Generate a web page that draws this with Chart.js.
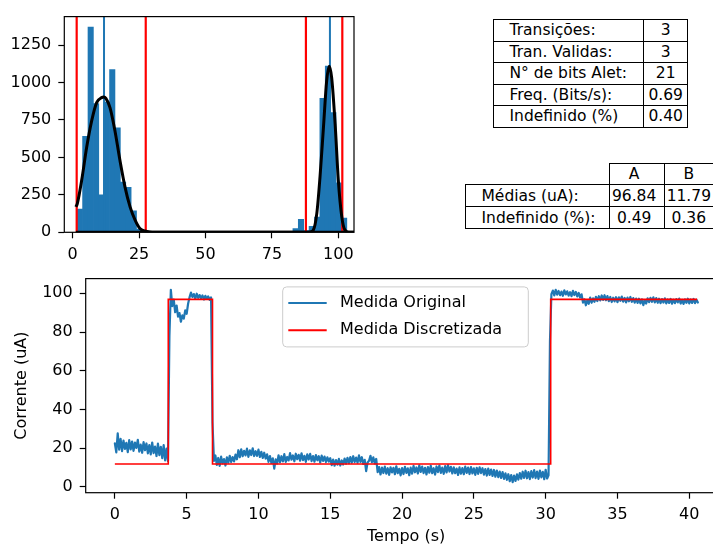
<!DOCTYPE html>
<html lang="pt-BR">
<head>
<meta charset="utf-8">
<title>Análise de bits aleatórios</title>
<script src="https://cdn.jsdelivr.net/npm/chart.js@4.4.1/dist/chart.umd.min.js"></script>
<style>
  html, body { margin: 0; padding: 0; background: #fff; overflow: hidden; }
  #painel { position: relative; width: 713px; height: 548px; overflow: hidden; font-family: "DejaVu Sans", sans-serif; }
  canvas { position: absolute; left: 0; }
  #histograma { top: 0; }
  #serie { top: 262px; }
  table { position: absolute; border-collapse: collapse; font-size: 15.5px; color: #000; table-layout: fixed; }
  td { border: 1px solid #000; padding: 0; box-sizing: border-box; white-space: nowrap; overflow: visible; }
  td.rotulo { text-align: left; padding-left: 15.5px; }
  td.valor { text-align: center; }
  td.vazio { border: none; }
  #tabResumo { left: 493px; top: 19px; width: 194.4px; }
  #tabResumo td { height: 21.5px; }
  #tabNiveis { left: 465px; top: 162.5px; width: 253.7px; }
  #tabNiveis td { height: 21.9px; }
  #tabNiveis td.valor { padding-right: 6px; }
</style>
</head>
<body>
<div id="painel">
  <canvas id="histograma" width="370" height="262"></canvas>
  <canvas id="serie" width="740" height="286"></canvas>
  <table id="tabResumo"></table>
  <table id="tabNiveis"></table>
</div>

<script>
// histograma das amostras (50 bins)
const histInicio = 1.7;
const histLargura = 2.03;
const histContagens = [
  155, 640, 1370, 860, 250, 870, 1086, 698, 335, 300,
  143, 22, 6, 0, 0, 0, 0, 0, 0, 0,
  0, 0, 0, 0, 0, 0, 0, 0, 0, 0,
  0, 0, 0, 0, 0, 0, 0, 0, 0, 0,
  25, 86, 12, 40, 101, 894, 1109, 800, 330, 95,
];
const histXTicks = [0, 25, 50, 75, 100];
const histYTicks = [0, 250, 500, 750, 1000, 1250];

// limites de decisão de cada nível
const limites = [1.5, 27.5, 87.8, 101.5];

// gaussianas ajustadas (nível B e nível A)
const ajusteB = [
  [1.2, 170], [1.74, 192], [3.38, 347], [5.26, 567], [7.14, 744], [9.02, 866],
  [10.9, 899], [11.7, 903], [12.5, 894], [14.04, 832], [15.9, 678], [17.8, 479],
  [19.7, 302], [21.6, 170], [23.5, 82], [25.3, 26], [27.2, 9], [29, 2], [31, 0], [106, 0],
];
const ajusteA = [
  [1.2, 0], [88, 0], [89.5, 3], [90.6, 15], [91.9, 126], [93.1, 369], [94.4, 700],
  [95.6, 1009], [96.6, 1109], [97.5, 1031], [98.8, 722], [100.0, 347], [101.3, 103],
  [102.5, 15], [104, 1], [106, 0],
];

// tabelas
const resumoRotulos = ["Transições:", "Tran. Validas:", "N° de bits Alet:", "Freq. (Bits/s):", "Indefinido (%)"];
const resumoValores = ["3", "3", "21", "0.69", "0.40"];
const niveis = ["A", "B"];
const mediasNivel = [96.84, 11.79];
const indefinidoNivel = [0.49, 0.36];

// medida de corrente (uA), uma amostra a cada 0.1 s
const passo = 0.1;
const correnteOriginal = [
  22.5, 17.8, 27.6, 19.2, 24.8, 18.4, 23.9, 19.6, 22.7, 17.9,
  24.1, 19.3, 23.4, 18.6, 22.9, 20.1, 24.3, 18.2, 21.8, 17.6,
  23.1, 18.9, 22.4, 17.3, 21.6, 16.8, 22.9, 17.4, 20.8, 15.9,
  22.3, 16.4, 20.7, 14.8, 21.5, 13.6, 19.8, 13.2, 78.0, 101.8,
  93.4, 96.8, 90.2, 93.7, 87.9, 89.8, 85.3, 88.6, 86.9, 91.2,
  89.4, 94.6, 97.9, 100.4, 98.1, 99.6, 97.2, 99.8, 97.6, 99.1,
  97.4, 98.9, 96.8, 98.7, 97.1, 98.4, 96.6, 97.9, 33.2, 13.4,
  16.2, 11.3, 14.9, 10.8, 15.6, 12.1, 14.3, 11.0, 15.2, 12.4,
  16.0, 12.8, 15.4, 13.1, 16.6, 14.2, 18.9, 15.3, 19.4, 15.8,
  18.6, 16.2, 19.7, 15.5, 18.8, 16.4, 19.9, 15.9, 18.4, 16.0,
  19.2, 15.4, 18.1, 14.9, 17.6, 14.6, 16.8, 12.9, 15.9, 12.3,
  14.7, 9.4, 14.2, 12.0, 16.3, 12.7, 15.8, 13.1, 16.9, 12.9,
  15.4, 13.6, 17.4, 14.0, 16.2, 13.2, 17.1, 14.3, 16.5, 13.5,
  17.3, 13.8, 16.0, 12.9, 16.8, 14.1, 17.0, 13.3, 15.9, 13.0,
  16.4, 13.7, 15.8, 12.6, 16.1, 13.4, 15.6, 12.8, 15.2, 13.0,
  14.8, 11.2, 14.1, 10.9, 13.8, 11.4, 14.4, 11.0, 13.6, 11.5,
  14.6, 11.9, 15.0, 12.2, 15.4, 12.5, 15.8, 12.8, 15.1, 12.4,
  16.2, 12.9, 15.3, 11.8, 13.9, 8.1, 12.6, 13.4, 16.0, 12.7,
  15.2, 12.1, 14.4, 7.6, 10.2, 6.4, 9.9, 7.1, 10.4, 6.8,
  9.6, 6.2, 10.1, 7.4, 9.8, 6.5, 10.6, 7.0, 9.3, 5.9,
  9.7, 6.6, 10.3, 7.2, 9.5, 6.0, 9.9, 6.8, 10.8, 7.5,
  10.0, 6.9, 11.1, 7.7, 10.4, 7.1, 9.8, 6.4, 10.2, 7.3,
  10.9, 7.0, 9.6, 6.3, 10.5, 7.6, 11.0, 7.2, 9.9, 6.7,
  10.7, 7.4, 11.2, 7.9, 10.3, 6.9, 10.1, 7.0, 9.4, 6.1,
  10.0, 6.8, 9.7, 6.5, 10.4, 7.2, 9.9, 6.6, 10.2, 6.9,
  9.5, 6.2, 9.8, 6.7, 10.1, 7.1, 9.6, 6.3, 9.2, 5.8,
  9.4, 6.1, 8.9, 5.6, 8.7, 5.2, 8.4, 5.0, 7.9, 4.6,
  7.6, 4.1, 7.0, 3.6, 6.5, 2.9, 6.1, 2.4, 5.8, 3.0,
  6.4, 3.7, 7.1, 4.2, 7.8, 4.6, 8.3, 4.4, 7.6, 4.0,
  8.1, 4.8, 8.6, 4.5, 7.9, 4.1, 8.4, 4.9, 7.7, 3.9,
  8.8, 4.3, 6.0, 75.4, 99.6, 101.4, 98.9, 101.8, 99.3, 101.2,
  99.0, 100.9, 98.7, 101.5, 99.4, 101.0, 98.8, 100.6, 98.5, 101.3,
  99.1, 100.7, 98.4, 100.2, 97.8, 99.5, 95.2, 96.9, 93.8, 96.4,
  94.6, 97.8, 95.1, 97.4, 95.6, 98.2, 96.0, 98.5, 96.3, 98.9,
  96.6, 99.0, 96.4, 98.6, 95.9, 98.1, 95.5, 97.7, 95.8, 98.0,
  95.4, 97.9, 96.1, 98.3, 95.7, 97.6, 95.3, 97.8, 95.9, 98.1,
  95.6, 97.5, 95.2, 97.3, 95.0, 97.2, 94.8, 96.9, 93.9, 96.5,
  94.7, 97.4, 95.4, 97.7, 95.6, 97.9, 95.3, 97.5, 95.1, 97.2,
  94.9, 97.0, 95.2, 97.4, 94.8, 96.8, 95.0, 97.1, 94.6, 96.7,
  94.9, 97.0, 95.3, 97.3, 94.7, 96.6, 94.5, 96.9, 95.1, 97.2,
  94.8, 96.8, 95.0, 97.1, 94.9, 96.7, 95.2,
];
// medida discretizada: instantes de troca e nível resultante
const trocaTempos = [0, 3.72, 6.8, 30.35, 40.55];
const trocaNiveis = [mediasNivel[1], mediasNivel[0], mediasNivel[1], mediasNivel[0], mediasNivel[0]];
const serieXTicks = [0, 5, 10, 15, 20, 25, 30, 35, 40];
const serieYTicks = [0, 20, 40, 60, 80, 100];

const AZUL = "#1f77b4";
const VERMELHO = "#ff0000";

Chart.defaults.font.family = "'DejaVu Sans', sans-serif";
Chart.defaults.font.size = 16;
Chart.defaults.color = "#000";
Chart.defaults.animation = false;
Chart.defaults.plugins.legend.display = false;
Chart.defaults.plugins.tooltip.enabled = false;

const molduraPlugin = {
  id: "moldura",
  afterDatasetsDraw(chart) {
    const { ctx, chartArea: a } = chart;
    ctx.save();
    ctx.strokeStyle = "#000";
    ctx.lineWidth = 1.2;
    ctx.strokeRect(a.left, a.top, a.right - a.left, a.bottom - a.top);
    ctx.restore();
  },
};

const legendaPlugin = {
  id: "legendaInterna",
  afterDraw(chart) {
    const { ctx, chartArea: a } = chart;
    const x = a.left + 197;
    const y = a.top + 8.3;
    ctx.save();
    ctx.beginPath();
    if (ctx.roundRect) ctx.roundRect(x, y, 245.6, 60, 4);
    else ctx.rect(x, y, 245.6, 60);
    ctx.fillStyle = "rgba(255,255,255,0.8)";
    ctx.fill();
    ctx.strokeStyle = "#cccccc";
    ctx.lineWidth = 1;
    ctx.stroke();
    ctx.font = "16px 'DejaVu Sans'";
    ctx.textBaseline = "middle";
    chart.data.datasets.forEach((ds, i) => {
      const cy = y + 16 + i * 27.3;
      ctx.strokeStyle = ds.borderColor;
      ctx.lineWidth = 2;
      ctx.beginPath();
      ctx.moveTo(x + 5.6, cy);
      ctx.lineTo(x + 44, cy);
      ctx.stroke();
      ctx.fillStyle = "#000";
      ctx.fillText(ds.label, x + 57.3, cy);
    });
    ctx.restore();
  },
};

function eixo(min, max, ticks, largura, altura, extra) {
  return Object.assign({
    type: "linear",
    min: min,
    max: max,
    offset: false,
    afterBuildTicks: (scale) => { scale.ticks = ticks.map((v) => ({ value: v })); },
    afterFit: (scale) => {
      if (largura !== null) scale.width = largura;
      if (altura !== null) scale.height = altura;
    },
    ticks: { autoSkip: false, maxRotation: 0, padding: 7, color: "#000", callback: (v) => String(v) },
    grid: { offset: false, drawOnChartArea: false, drawTicks: true, tickLength: 6, tickWidth: 1.2, tickColor: "#000" },
    border: { display: false },
  }, extra || {});
}

function generateHistograma() {
  const yMax = 1440;
  const barras = histContagens.map((c, i) => ({ x: histInicio + histLargura * (i + 0.5), y: c }));

  const datasets = [
    {
      type: "bar",
      data: barras,
      backgroundColor: AZUL,
      borderWidth: 0,
      barPercentage: 1,
      categoryPercentage: 1,
      order: 4,
    },
  ];
  limites.forEach((v) => {
    datasets.push({
      type: "line",
      data: [{ x: v, y: 0 }, { x: v, y: yMax }],
      borderColor: VERMELHO,
      borderWidth: 2.2,
      pointRadius: 0,
      order: 3,
    });
  });
  mediasNivel.forEach((v) => {
    datasets.push({
      type: "line",
      data: [{ x: v, y: 0 }, { x: v, y: yMax }],
      borderColor: AZUL,
      borderWidth: 2,
      pointRadius: 0,
      order: 2,
    });
  });
  [ajusteB, ajusteA].forEach((curva) => {
    datasets.push({
      type: "line",
      data: curva.map((p) => ({ x: p[0], y: p[1] })),
      borderColor: "#000",
      borderWidth: 3,
      pointRadius: 0,
      cubicInterpolationMode: "monotone",
      order: 1,
    });
  });

  const config = {
    type: "bar",
    data: { datasets: datasets },
    options: {
      responsive: false,
      layout: { padding: { top: 15, right: 16, left: 0, bottom: 0 } },
      scales: {
        x: eixo(-3.16, 105.9, histXTicks, null, 29.7),
        y: eixo(0, yMax, histYTicks, 64.3, null),
      },
    },
    plugins: [molduraPlugin],
  };

  new Chart(document.getElementById("histograma"), config);
}

function generateSerie() {
  const original = correnteOriginal.map((v, i) => ({ x: i * passo, y: v }));
  const discreta = trocaTempos.map((t, i) => ({ x: t, y: trocaNiveis[i] }));

  const config = {
    type: "line",
    data: {
      datasets: [
        {
          label: "Medida Original",
          data: original,
          borderColor: AZUL,
          borderWidth: 2.2,
          borderJoinStyle: "round",
          borderCapStyle: "round",
          pointRadius: 0,
          order: 2,
        },
        {
          label: "Medida Discretizada",
          data: discreta,
          borderColor: VERMELHO,
          borderWidth: 1.6,
          pointRadius: 0,
          stepped: "before",
          order: 1,
        },
      ],
    },
    options: {
      responsive: false,
      layout: { padding: { top: 13.7, right: 13.4, left: 0, bottom: 0 } },
      scales: {
        x: eixo(-2.03, 42.6, serieXTicks, null, 55.3, {
          title: { display: true, text: "Tempo (s)", color: "#000", padding: { top: 0, bottom: 2 } },
        }),
        y: eixo(-3.05, 107.6, serieYTicks, 85.7, null, {
          title: { display: true, text: "Corrente (uA)", color: "#000", padding: { top: 12, bottom: 0 } },
        }),
      },
    },
    plugins: [molduraPlugin, legendaPlugin],
  };

  new Chart(document.getElementById("serie"), config);
}

function celula(tr, texto, classe, largura) {
  const td = document.createElement("td");
  td.className = classe;
  td.textContent = texto;
  if (largura) td.style.width = largura + "px";
  tr.appendChild(td);
}

function generateTabelas() {
  const resumo = document.getElementById("tabResumo");
  resumoRotulos.forEach((r, i) => {
    const tr = document.createElement("tr");
    celula(tr, r, "rotulo", i === 0 ? 150 : null);
    celula(tr, resumoValores[i], "valor", i === 0 ? 44.4 : null);
    resumo.appendChild(tr);
  });

  const tab = document.getElementById("tabNiveis");
  const cab = document.createElement("tr");
  celula(cab, "", "vazio", 144.3);
  niveis.forEach((n) => celula(cab, n, "valor", 54.7));
  tab.appendChild(cab);
  const linhas = [
    ["Médias (uA):", mediasNivel.map((v) => v.toFixed(2))],
    ["Indefinido (%):", indefinidoNivel.map((v) => v.toFixed(2))],
  ];
  linhas.forEach(([rotulo, vals]) => {
    const tr = document.createElement("tr");
    celula(tr, rotulo, "rotulo");
    vals.forEach((v) => celula(tr, v, "valor"));
    tab.appendChild(tr);
  });
}

generateHistograma();
generateSerie();
generateTabelas();
</script>
</body>
</html>
